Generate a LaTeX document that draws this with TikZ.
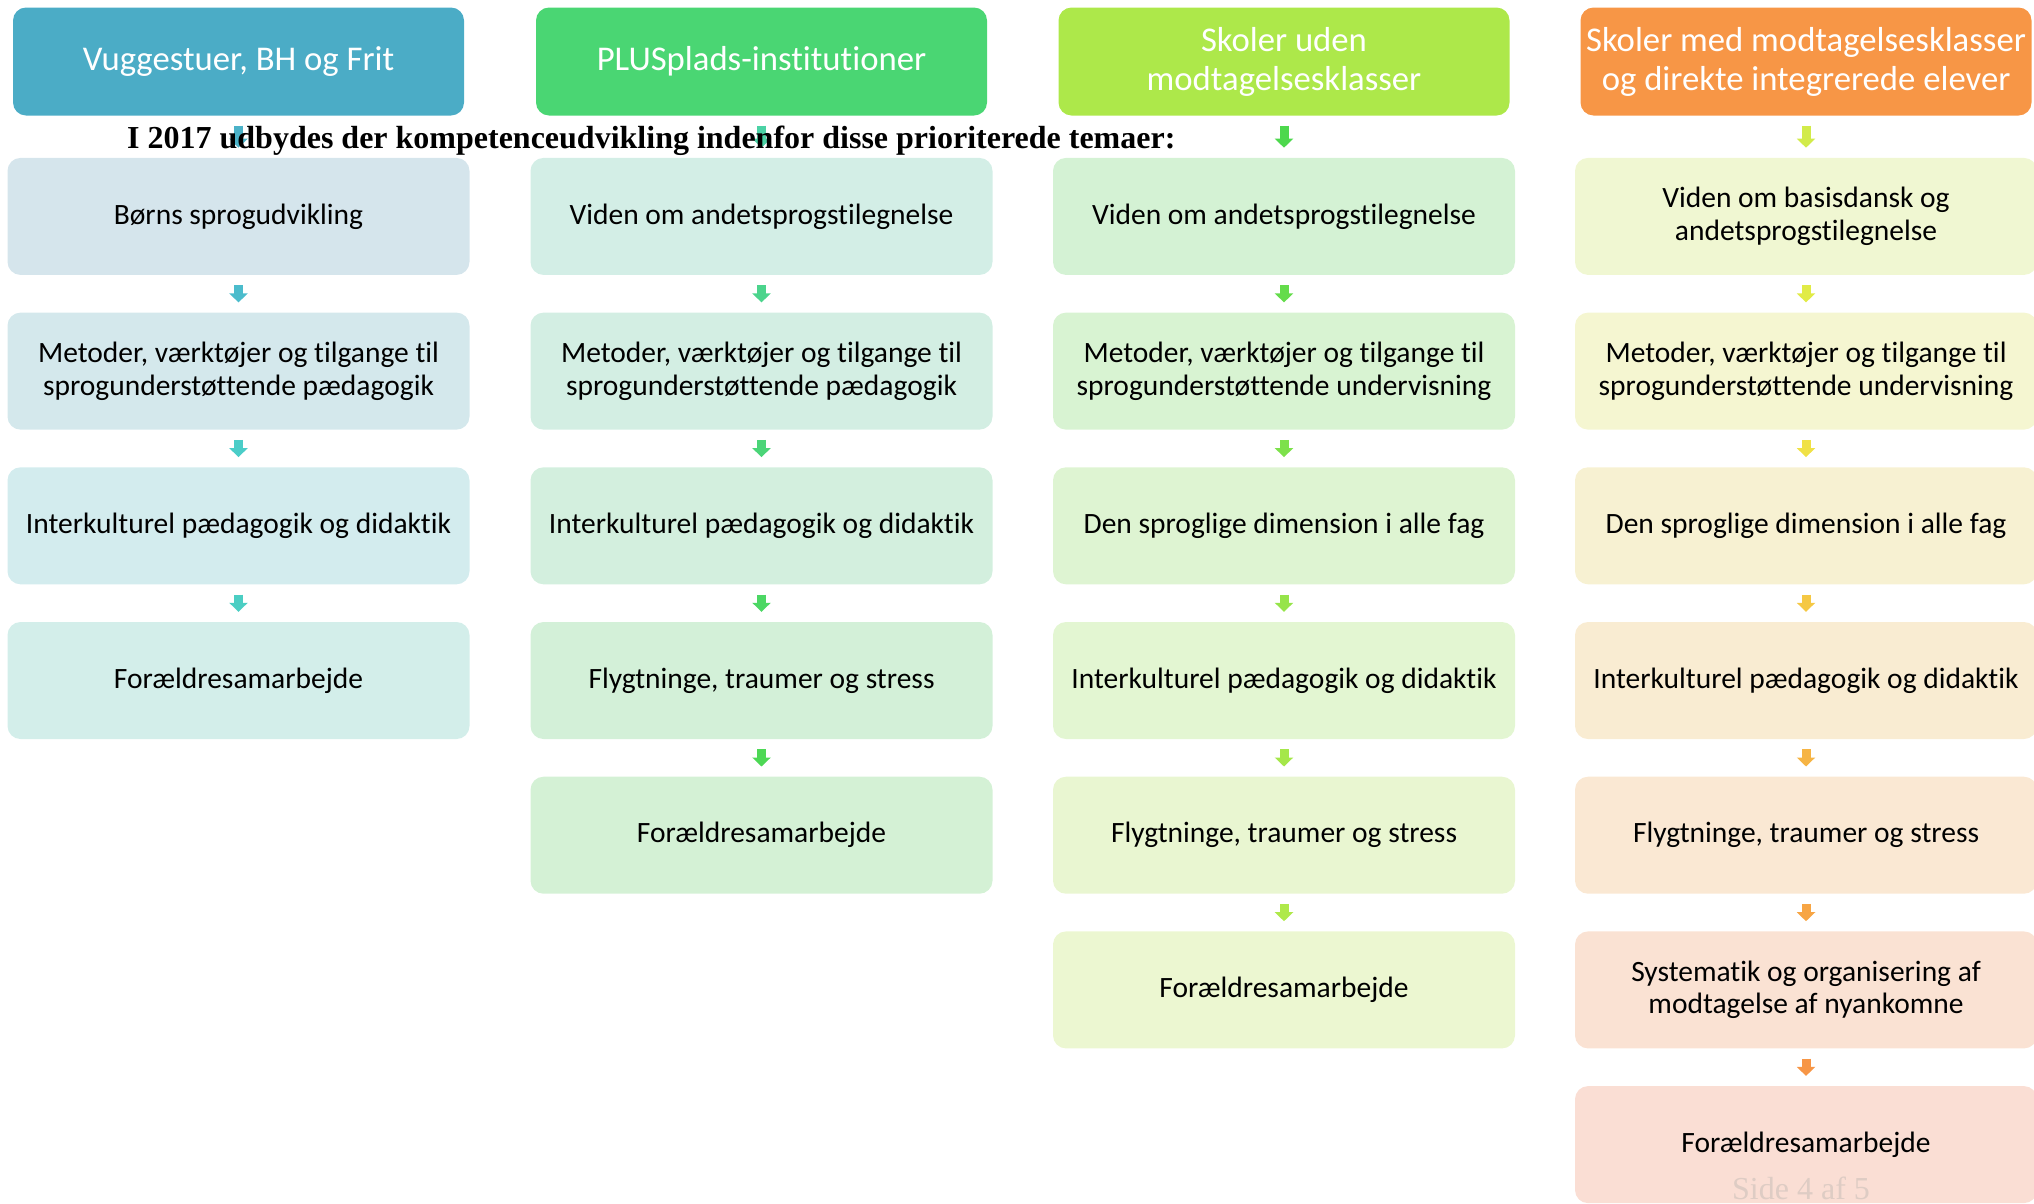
\documentclass[tikz,border=0pt]{standalone}
\usepackage{fontspec}
\setmainfont{Carlito}[Ligatures=NoCommon]
\newfontfamily\titlefont{Liberation Serif}
\usetikzlibrary{arrows.meta, positioning}

% header colours
\definecolor{hdA}{RGB}{75,172,198}
\definecolor{hdB}{RGB}{74,214,115}
\definecolor{hdC}{RGB}{173,232,74}
\definecolor{hdD}{RGB}{247,150,70}
% box fills
\definecolor{fA1}{RGB}{213,229,236}
\definecolor{fA2}{RGB}{212,232,236}
\definecolor{fA3}{RGB}{211,236,238}
\definecolor{fA4}{RGB}{211,238,234}
\definecolor{fB1}{RGB}{211,238,230}
\definecolor{fB2}{RGB}{211,238,227}
\definecolor{fB3}{RGB}{211,239,222}
\definecolor{fB4}{RGB}{211,240,216}
\definecolor{fB5}{RGB}{212,241,213}
\definecolor{fC1}{RGB}{212,242,212}
\definecolor{fC2}{RGB}{216,243,210}
\definecolor{fC3}{RGB}{222,244,210}
\definecolor{fC4}{RGB}{227,246,210}
\definecolor{fC5}{RGB}{233,246,209}
\definecolor{fC6}{RGB}{236,247,209}
\definecolor{fD1}{RGB}{240,247,210}
\definecolor{fD2}{RGB}{245,246,209}
\definecolor{fD3}{RGB}{247,241,210}
\definecolor{fD4}{RGB}{249,236,210}
\definecolor{fD5}{RGB}{250,232,211}
\definecolor{fD6}{RGB}{250,226,211}
\definecolor{fD7}{RGB}{250,222,212}
% arrow colours
\definecolor{aA1}{RGB}{75,178,200}
\definecolor{aA2}{RGB}{75,188,204}
\definecolor{aA3}{RGB}{75,205,200}
\definecolor{aA4}{RGB}{75,206,195}
\definecolor{aB1}{RGB}{75,210,165}
\definecolor{aB2}{RGB}{75,212,140}
\definecolor{aB3}{RGB}{75,213,120}
\definecolor{aB4}{RGB}{76,215,100}
\definecolor{aB5}{RGB}{77,216,85}
\definecolor{aC1}{RGB}{77,216,77}
\definecolor{aC2}{RGB}{100,220,75}
\definecolor{aC3}{RGB}{125,225,75}
\definecolor{aC4}{RGB}{150,228,74}
\definecolor{aC5}{RGB}{165,231,74}
\definecolor{aC6}{RGB}{175,233,74}
\definecolor{aD1}{RGB}{210,235,74}
\definecolor{aD2}{RGB}{225,235,70}
\definecolor{aD3}{RGB}{240,225,70}
\definecolor{aD4}{RGB}{245,200,68}
\definecolor{aD5}{RGB}{246,180,68}
\definecolor{aD6}{RGB}{247,165,68}
\definecolor{aD7}{RGB}{247,150,70}
\definecolor{pagegrey}{RGB}{222,204,196}

\begin{document}
\begin{tikzpicture}[
  x=1pt, y=-1pt,
  node distance=37.3pt,
  every node/.style={rounded corners=13pt, align=center, inner sep=4pt},
  hd/.style={minimum width=451pt, minimum height=108pt, text=white,
             font=\fontsize{34.7}{39}\selectfont},
  box/.style={minimum width=462pt, minimum height=117pt,
              font=\fontsize{29.5}{32.5}\selectfont},
  arr/.style={line width=9pt, -{Triangle[width=18pt, length=9pt]},
              shorten <=10pt, shorten >=10pt}
]
  \useasboundingbox (0,0) rectangle (2034,1203);

  % headers
  \node[hd, fill=hdA] (hVug) at (238.5,61.5) {Vuggestuer, BH og Frit};
  \node[hd, fill=hdB] (hPlus) at (761.5,61.5) {PLUSplads-institutioner};
  \node[hd, fill=hdC] (hUden) at (1284,61.5) {Skoler uden\\modtagelsesklasser};
  \node[hd, fill=hdD] (hMed) at (1806,61.5) {Skoler med modtagelsesklasser\\og direkte integrerede elever};

  % column 1
  \node[box, fill=fA1, below=42pt of hVug] (v1) {Børns sprogudvikling};
  \node[box, fill=fA2, below=of v1] (v2) {Metoder, værktøjer og tilgange til\\sprogunderstøttende pædagogik};
  \node[box, fill=fA3, below=of v2] (v3) {Interkulturel pædagogik og didaktik};
  \node[box, fill=fA4, below=of v3] (v4) {Forældresamarbejde};

  % column 2
  \node[box, fill=fB1, below=42pt of hPlus] (p1) {Viden om andetsprogstilegnelse};
  \node[box, fill=fB2, below=of p1] (p2) {Metoder, værktøjer og tilgange til\\sprogunderstøttende pædagogik};
  \node[box, fill=fB3, below=of p2] (p3) {Interkulturel pædagogik og didaktik};
  \node[box, fill=fB4, below=of p3] (p4) {Flygtninge, traumer og stress};
  \node[box, fill=fB5, below=of p4] (p5) {Forældresamarbejde};

  % column 3
  \node[box, fill=fC1, below=42pt of hUden] (u1) {Viden om andetsprogstilegnelse};
  \node[box, fill=fC2, below=of u1] (u2) {Metoder, værktøjer og tilgange til\\sprogunderstøttende undervisning};
  \node[box, fill=fC3, below=of u2] (u3) {Den sproglige dimension i alle fag};
  \node[box, fill=fC4, below=of u3] (u4) {Interkulturel pædagogik og didaktik};
  \node[box, fill=fC5, below=of u4] (u5) {Flygtninge, traumer og stress};
  \node[box, fill=fC6, below=of u5] (u6) {Forældresamarbejde};

  % column 4
  \node[box, fill=fD1, below=42pt of hMed] (m1) {Viden om basisdansk og\\andetsprogstilegnelse};
  \node[box, fill=fD2, below=of m1] (m2) {Metoder, værktøjer og tilgange til\\sprogunderstøttende undervisning};
  \node[box, fill=fD3, below=of m2] (m3) {Den sproglige dimension i alle fag};
  \node[box, fill=fD4, below=of m3] (m4) {Interkulturel pædagogik og didaktik};
  \node[box, fill=fD5, below=of m4] (m5) {Flygtninge, traumer og stress};
  \node[box, fill=fD6, below=of m5] (m6) {Systematik og organisering af\\modtagelse af nyankomne};
  \node[box, fill=fD7, below=of m6] (m7) {Forældresamarbejde};

  \draw[arr, aA1] (hVug) -- (v1);
  \draw[arr, aA2] (v1) -- (v2);
  \draw[arr, aA3] (v2) -- (v3);
  \draw[arr, aA4] (v3) -- (v4);

  \draw[arr, aB1] (hPlus) -- (p1);
  \draw[arr, aB2] (p1) -- (p2);
  \draw[arr, aB3] (p2) -- (p3);
  \draw[arr, aB4] (p3) -- (p4);
  \draw[arr, aB5] (p4) -- (p5);

  \draw[arr, aC1] (hUden) -- (u1);
  \draw[arr, aC2] (u1) -- (u2);
  \draw[arr, aC3] (u2) -- (u3);
  \draw[arr, aC4] (u3) -- (u4);
  \draw[arr, aC5] (u4) -- (u5);
  \draw[arr, aC6] (u5) -- (u6);

  \draw[arr, aD1] (hMed) -- (m1);
  \draw[arr, aD2] (m1) -- (m2);
  \draw[arr, aD3] (m2) -- (m3);
  \draw[arr, aD4] (m3) -- (m4);
  \draw[arr, aD5] (m4) -- (m5);
  \draw[arr, aD6] (m5) -- (m6);
  \draw[arr, aD7] (m6) -- (m7);

  % page text laid over the chart
  \node[anchor=west, inner sep=0pt, font=\titlefont\bfseries\fontsize{32}{38}\selectfont] (title) at (127,141)
    {I 2017 udbydes der kompetenceudvikling indenfor disse prioriterede temaer:};
  \node[text=pagegrey, inner sep=0pt, font=\titlefont\fontsize{32}{38}\selectfont] (page) at (1801,1188) {Side 4 af 5};
\end{tikzpicture}
\end{document}
